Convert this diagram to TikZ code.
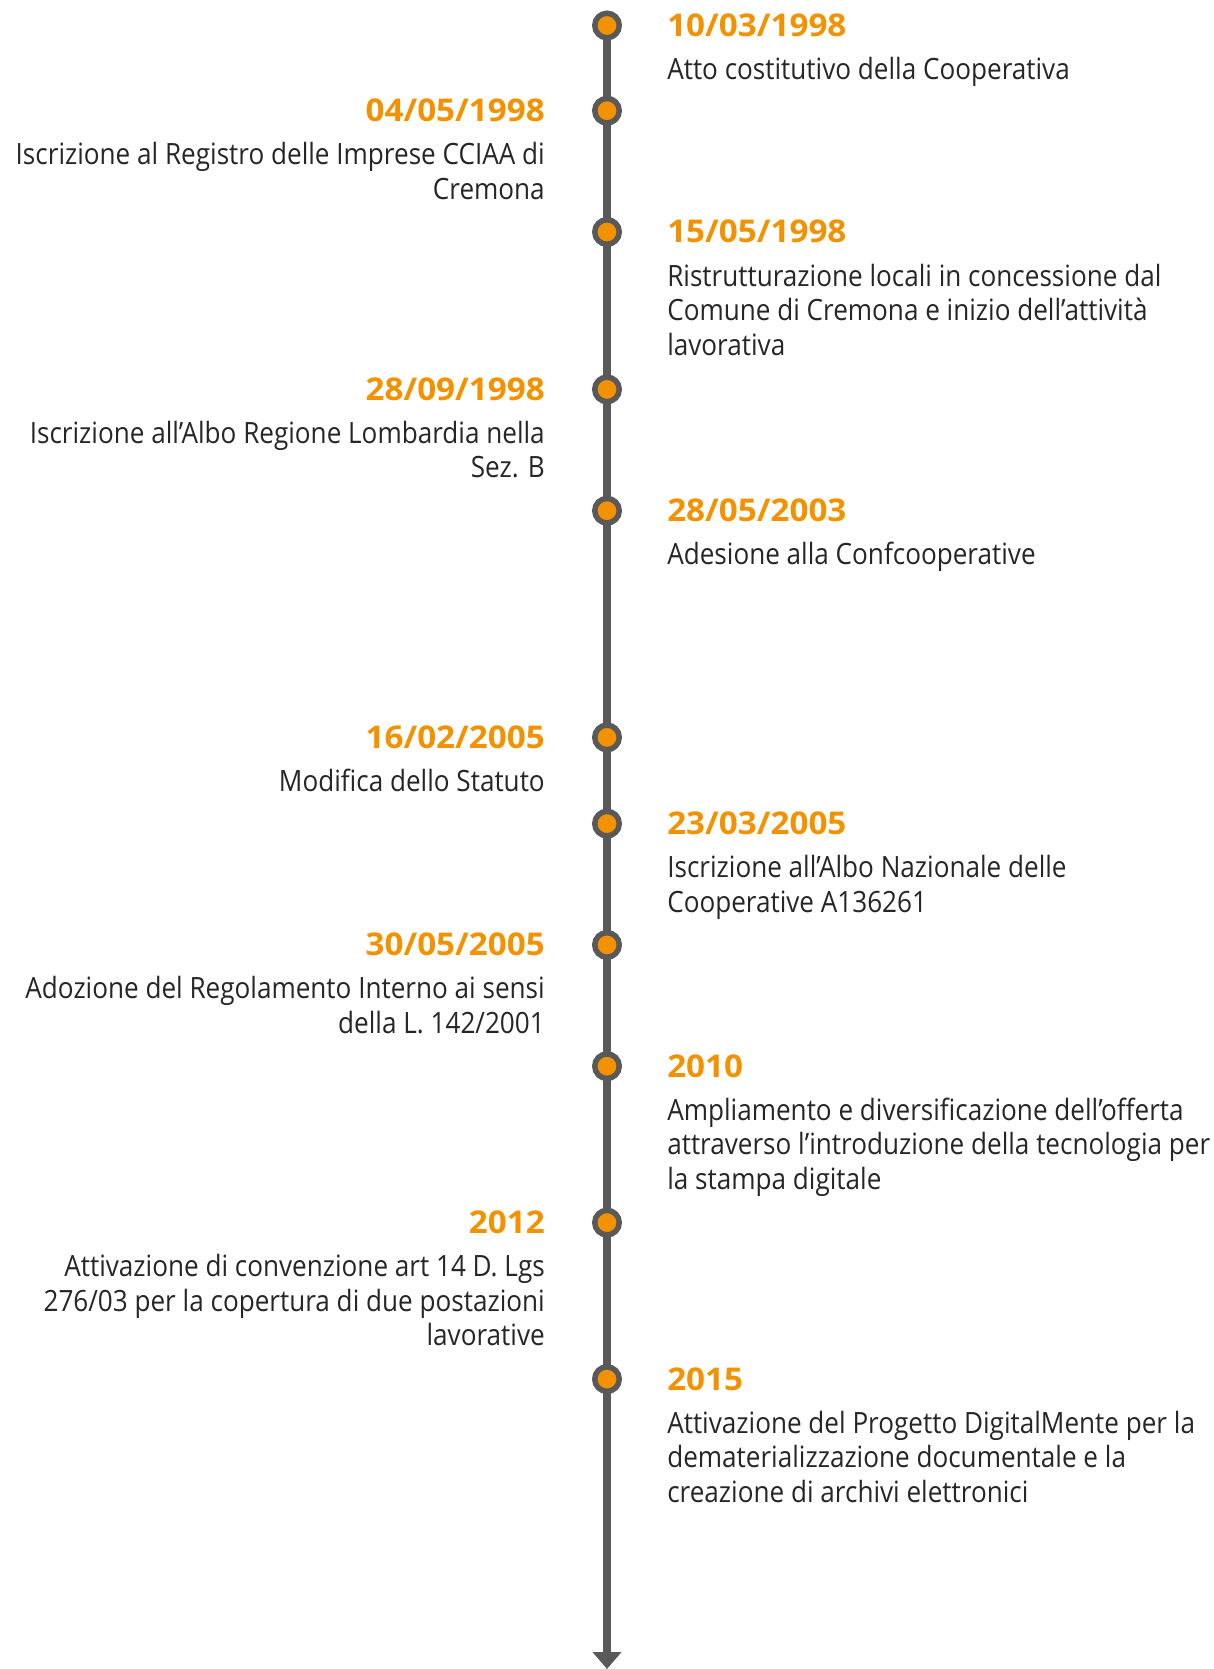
\documentclass[tikz,border=0pt]{standalone}
\usepackage{fontspec}
\setmainfont{Open Sans}[FakeStretch=0.89]
\newfontfamily\datefont{Open Sans}[FakeStretch=1.06]
\usetikzlibrary{arrows.meta}
\definecolor{tlorange}{HTML}{F39200}
\definecolor{tlgray}{HTML}{595959}
\definecolor{tltext}{HTML}{262626}
\tikzset{
	evdot/.style={circle, draw=tlgray, fill=tlorange, line width=4.1pt, minimum size=18.4pt, inner sep=0pt},
	datelbl/.style={font=\datefont\bfseries\fontsize{23.5pt}{28pt}\selectfont, text=tlorange, inner sep=0pt},
	desclbl/.style={font=\fontsize{22pt}{25.9pt}\selectfont, text=tltext, inner sep=0pt},
	rlbl/.style={anchor=base west, align=left},
	llbl/.style={anchor=base east, align=right}
}

\begin{document}
\begin{tikzpicture}[x=0.75pt, y=-0.75pt]
	\useasboundingbox (0,0) rectangle (1213,1669);

	\coordinate (D1) at (607,25.5);
	\coordinate (D2) at (607,110.7);
	\coordinate (D3) at (607,232);
	\coordinate (D4) at (607,389.4);
	\coordinate (D5) at (607,510.7);
	\coordinate (D6) at (607,737.4);
	\coordinate (D7) at (607,823.6);
	\coordinate (D8) at (607,944.9);
	\coordinate (D9) at (607,1066.2);
	\coordinate (D10) at (607,1222.6);
	\coordinate (D11) at (607,1379.1);
	\coordinate (End) at (607,1669);

	% the time axis
	\draw[tlgray, line width=5.5pt, -{Triangle[width=21pt,length=12.75pt]}] (D1) -- (End);

	\node[evdot] (P1) at (D1) {}; \node[evdot] (P2) at (D2) {}; \node[evdot] (P3) at (D3) {};
	\node[evdot] (P4) at (D4) {}; \node[evdot] (P5) at (D5) {}; \node[evdot] (P6) at (D6) {};
	\node[evdot] (P7) at (D7) {}; \node[evdot] (P8) at (D8) {}; \node[evdot] (P9) at (D9) {};
	\node[evdot] (P10) at (D10) {}; \node[evdot] (P11) at (D11) {};

	% right side (base = last line)
	\node[datelbl, rlbl] (E1) at (667,36.5) {10/03/1998};
	\node[desclbl, rlbl] (T1) at (667,79.5) {Atto costitutivo della Cooperativa};
	\node[datelbl, rlbl] (E3) at (667,243) {15/05/1998};
	\node[desclbl, rlbl] (T3) at (667,355.1) {Ristrutturazione locali in concessione dal\\Comune di Cremona e inizio dell’attività\\lavorativa};
	\node[datelbl, rlbl] (E5) at (667,521.7) {28/05/2003};
	\node[desclbl, rlbl] (T5) at (667,564.7) {Adesione alla Confcooperative};
	\node[datelbl, rlbl] (E7) at (667,834.6) {23/03/2005};
	\node[desclbl, rlbl] (T7) at (667,912.1) {Iscrizione all’Albo Nazionale delle\\Cooperative A136261};
	\node[datelbl, rlbl] (E9) at (667,1077.2) {2010};
	\node[desclbl, rlbl] (T9) at (667,1189.3) {Ampliamento e diversificazione dell’offerta\\attraverso l’introduzione della tecnologia per\\la stampa digitale};
	\node[datelbl, rlbl] (E11) at (667,1390.1) {2015};
	\node[desclbl, rlbl] (T11) at (667,1502.2) {Attivazione del Progetto DigitalMente per la\\dematerializzazione documentale e la\\creazione di archivi elettronici};

	% left side
	\node[datelbl, llbl] (E2) at (545,121.7) {04/05/1998};
	\node[desclbl, llbl] (T2) at (545,199.2) {Iscrizione al Registro delle Imprese CCIAA di\\Cremona};
	\node[datelbl, llbl] (E4) at (545,400.4) {28/09/1998};
	\node[desclbl, llbl] (T4) at (545,477.9) {Iscrizione all’Albo Regione Lombardia nella\\Sez. B};
	\node[datelbl, llbl] (E6) at (545,748.4) {16/02/2005};
	\node[desclbl, llbl] (T6) at (545,791.4) {Modifica dello Statuto};
	\node[datelbl, llbl] (E8) at (545,955.9) {30/05/2005};
	\node[desclbl, llbl] (T8) at (545,1033.4) {Adozione del Regolamento Interno ai sensi\\della L. 142/2001};
	\node[datelbl, llbl] (E10) at (545,1233.6) {2012};
	\node[desclbl, llbl] (T10) at (545,1345.7) {Attivazione di convenzione art 14 D. Lgs\\276/03 per la copertura di due postazioni\\lavorative};
\end{tikzpicture}
\end{document}
